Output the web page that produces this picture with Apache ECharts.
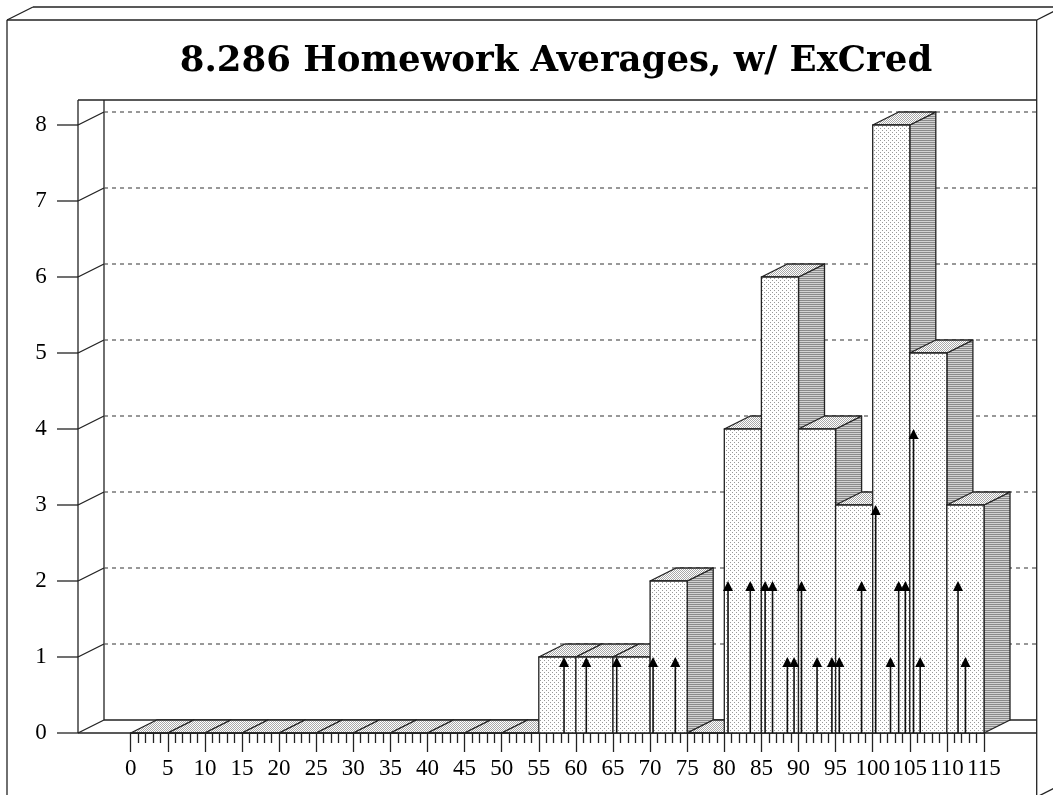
<!DOCTYPE html>
<html>
<head>
<meta charset="utf-8">
<script src="https://cdn.jsdelivr.net/npm/echarts@6/dist/echarts.min.js"></script>
<style>
  html, body { margin: 0; padding: 0; background: #fff; }
  #chart { width: 1053px; height: 795px; }
</style>
</head>
<body>
<div id="chart"></div>
<script>
// histogram bins (width 5) and how many averages fall in each
const binStarts = [0, 5, 10, 15, 20, 25, 30, 35, 40, 45, 50, 55, 60, 65, 70, 75, 80, 85, 90, 95, 100, 105, 110];
const binCounts = [0, 0, 0, 0, 0, 0, 0, 0, 0, 0, 0, 1, 1, 1, 2, 0, 4, 6, 4, 3, 8, 5, 3];
// individual averages (arrows) and how many students share each one
const scores = [58.4, 61.4, 65.5, 70.4, 73.4, 80.5, 83.5, 85.5, 86.5, 88.5, 89.4, 90.4, 92.5, 94.5, 95.5, 98.5, 100.4, 102.4, 103.5, 104.4, 105.5, 106.4, 111.5, 112.5];
const scoreCounts = [1, 1, 1, 1, 1, 2, 2, 2, 2, 1, 1, 2, 1, 1, 1, 2, 3, 1, 2, 2, 4, 1, 2, 1];
const yTicks = [0, 1, 2, 3, 4, 5, 6, 7, 8];
const binWidth = 5;

const chart = echarts.init(document.getElementById('chart'));

// 3D depth of the box
const DX = 26, DY = -13;
const INK = '#222';
const LW = 1.3;
// layout of the box (pixels)
const wallX = 78, backX = 104, rightX = 1036.7, topY = 100, floorY = 733;
const LABEL_FONT = 'Liberation Serif';

function makePattern(w, h, draw) {
  const c = document.createElement('canvas');
  c.width = w; c.height = h;
  const ctx = c.getContext('2d');
  ctx.fillStyle = '#fff';
  ctx.fillRect(0, 0, w, h);
  draw(ctx);
  return { type: 'pattern', image: c, repeat: 'repeat' };
}
const frontPat = makePattern(4, 4, ctx => {
  ctx.fillStyle = '#999';
  ctx.fillRect(0, 0, 1, 1);
  ctx.fillRect(2, 2, 1, 1);
});
const topPat = makePattern(2, 2, ctx => {
  ctx.fillStyle = '#a8a8a8';
  ctx.fillRect(0, 0, 1, 1);
  ctx.fillRect(1, 1, 1, 1);
});
const sidePat = makePattern(2, 2, ctx => {
  ctx.fillStyle = '#8a8a8a';
  ctx.fillRect(0, 0, 2, 1);
  ctx.fillStyle = '#d2d2d2';
  ctx.fillRect(0, 1, 2, 1);
});

const line = (x1, y1, x2, y2) => ({
  type: 'line', z: 0, silent: true,
  shape: { x1, y1, x2, y2 },
  style: { stroke: INK, lineWidth: LW }
});

chart.setOption({
  animation: false,
  grid: { left: 130.7, right: 69, top: 125, bottom: 62, outerBoundsMode: 'none' },
  xAxis: {
    type: 'value', min: 0, max: 115, interval: 5,
    axisLine: { show: false },
    axisTick: { show: true, length: 19, lineStyle: { color: INK, width: LW } },
    minorTick: { show: true, splitNumber: 5, length: 10, lineStyle: { color: INK, width: LW } },
    splitLine: { show: false },
    axisLabel: { color: '#000', fontFamily: LABEL_FONT, fontSize: 23, margin: 24, showMinLabel: true, showMaxLabel: true }
  },
  yAxis: {
    type: 'value', min: 0, max: 8, interval: 1,
    axisLine: { show: false },
    axisTick: { show: false },
    splitLine: { show: false },
    axisLabel: { color: '#000', fontFamily: LABEL_FONT, fontSize: 23, margin: 84 }
  },
  graphic: [
    // outer box
    line(7, 20, rightX, 20),
    line(7, 20, 7, 797),
    line(rightX, 20, rightX, 797),
    line(7, 20, 7 + DX, 20 + DY),
    line(7 + DX, 20 + DY, 1060, 20 + DY),
    line(rightX, 20, rightX + DX, 20 + DY),
    line(rightX, 797, rightX + DX, 797 + DY),
    // plot walls and floor
    line(wallX, topY, rightX, topY),
    line(wallX, topY, wallX, floorY),
    line(backX, topY, backX, floorY + DY),
    line(wallX, floorY, backX, floorY + DY),
    line(backX, floorY + DY, rightX, floorY + DY),
    line(wallX, floorY, rightX, floorY),
    {
      type: 'text', z: 10, x: 556, y: 62,
      style: {
        text: '8.286 Homework Averages, w/ ExCred',
        font: 'bold 35.5px "DejaVu Serif"',
        fill: '#000', align: 'center', verticalAlign: 'middle'
      }
    }
  ],
  series: [
    {
      // y ticks on the front edge, carried onto the back wall as dashed lines
      type: 'custom', z: 1, silent: true,
      data: yTicks.map(v => [0, v]),
      renderItem: (params, api) => {
        const v = api.value(1);
        const y = api.coord([0, v])[1];
        const kids = [
          { type: 'line', shape: { x1: wallX - 21, y1: y, x2: wallX, y2: y }, style: { stroke: INK, lineWidth: LW } }
        ];
        if (v > 0) {
          kids.push(
            { type: 'line', shape: { x1: wallX, y1: y, x2: backX, y2: y + DY }, style: { stroke: INK, lineWidth: LW } },
            { type: 'line', shape: { x1: backX, y1: y + DY, x2: rightX, y2: y + DY }, style: { stroke: '#555', lineWidth: 1.2, lineDash: [4, 4] } }
          );
        }
        return { type: 'group', children: kids };
      }
    },
    {
      // 3D histogram bars, painted left to right
      type: 'custom', z: 2, silent: true,
      data: binStarts.map((s, i) => [s, s + binWidth, binCounts[i]]),
      encode: { x: [0, 1], y: 2 },
      renderItem: (params, api) => {
        const a = api.coord([api.value(0), 0]);
        const b = api.coord([api.value(1), api.value(2)]);
        const xl = a[0], xr = b[0], yb = a[1], yt = b[1];
        const st = { stroke: INK, lineWidth: LW, lineJoin: 'round' };
        return {
          type: 'group',
          children: [
            { type: 'polygon', shape: { points: [[xr, yt], [xr + DX, yt + DY], [xr + DX, yb + DY], [xr, yb]] }, style: Object.assign({ fill: sidePat }, st) },
            { type: 'polygon', shape: { points: [[xl, yt], [xr, yt], [xr + DX, yt + DY], [xl + DX, yt + DY]] }, style: Object.assign({ fill: topPat }, st) },
            { type: 'rect', shape: { x: xl, y: yt, width: xr - xl, height: yb - yt }, style: Object.assign({ fill: frontPat }, st) }
          ]
        };
      }
    },
    {
      // individual averages as arrows
      type: 'custom', z: 3, silent: true,
      data: scores.map((s, i) => [s, scoreCounts[i]]),
      renderItem: (params, api) => {
        const base = api.coord([api.value(0), 0]);
        const tip = api.coord([api.value(0), api.value(1)]);
        const x = tip[0], y = tip[1];
        return {
          type: 'group',
          children: [
            { type: 'line', shape: { x1: x, y1: base[1], x2: x, y2: y + 2 }, style: { stroke: '#111', lineWidth: 1.6 } },
            { type: 'polygon', shape: { points: [[x, y], [x - 5, y + 10], [x + 5, y + 10]] }, style: { fill: '#000' } }
          ]
        };
      }
    }
  ]
});
</script>
</body>
</html>
